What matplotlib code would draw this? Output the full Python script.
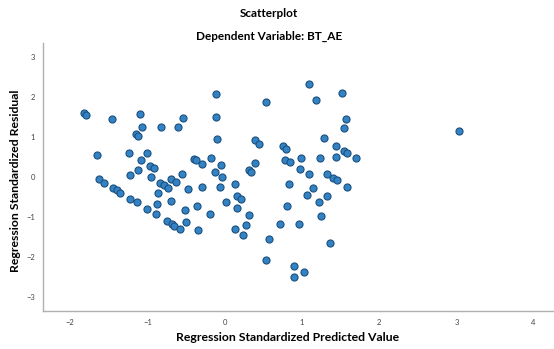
import matplotlib
matplotlib.use("Agg")
from matplotlib import pyplot as plt

# values
pred = [
    -1.82, -1.79, -1.46, -1.10, -1.07, -0.83, -1.15, -1.12, -1.65, -1.24,
    -1.00, -1.09, -0.97, -0.91, -1.12, -1.23, -0.96, -1.63, -1.56, -0.84,
    -0.79, -0.74, -1.45, -1.39, -1.35, -0.87, -1.22, -1.14, -0.88, -1.00,
    -0.89, -0.75, -0.68, -0.65, -0.58, -0.11, 0.53, -0.54, -0.61, -0.11,
    -0.10, 0.39, 0.45, -0.40, -0.37, -0.30, -0.18, -0.05, 0.39, 0.31,
    0.34, -0.13, -0.03, -0.55, -0.70, -0.63, -0.47, -0.29, -0.06, 0.13,
    -0.70, 0.16, 0.21, 0.02, 0.16, -0.51, -0.36, -0.19, 0.31, -0.50,
    -0.34, 0.13, 0.27, 0.24, 0.57, 0.53, 1.09, 1.52, 1.18, 1.57,
    1.54, 1.29, 0.76, 0.80, 1.44, 1.54, 1.58, 0.78, 0.84, 0.99,
    1.23, 1.44, 1.70, 0.97, 1.09, 1.32, 1.40, 1.45, 0.83, 1.14,
    1.59, 1.07, 1.33, 1.22, 0.81, 1.25, 0.72, 0.96, 1.36, 0.90,
    1.03, 0.90, 3.03,
]
resid = [
    1.59, 1.55, 1.44, 1.57, 1.25, 1.25, 1.06, 1.03, 0.54, 0.60,
    0.60, 0.42, 0.28, 0.21, 0.18, 0.04, 0.00, -0.06, -0.15, -0.16,
    -0.20, -0.29, -0.27, -0.34, -0.40, -0.40, -0.56, -0.63, -0.67, -0.81,
    -0.93, -1.11, -1.19, -1.22, -1.31, 2.07, 1.87, 1.46, 1.25, 1.50,
    0.94, 0.91, 0.83, 0.45, 0.42, 0.32, 0.47, 0.30, 0.35, 0.16,
    0.12, 0.11, 0.00, 0.07, -0.05, -0.13, -0.31, -0.25, -0.25, -0.18,
    -0.60, -0.49, -0.56, -0.63, -0.78, -0.83, -0.72, -0.92, -0.96, -1.12,
    -1.32, -1.31, -1.21, -1.45, -1.56, -2.08, 2.31, 2.09, 1.93, 1.45,
    1.21, 0.96, 0.76, 0.70, 0.78, 0.65, 0.60, 0.43, 0.36, 0.48,
    0.48, 0.50, 0.47, 0.20, 0.07, 0.07, -0.03, -0.08, -0.19, -0.28,
    -0.26, -0.46, -0.49, -0.64, -0.72, -0.97, -1.18, -1.18, -1.66, -2.24,
    -2.39, -2.52, 1.15,
]
x_ticks = [-2, -1, 0, 1, 2, 3, 4]
y_ticks = [-3, -2, -1, 0, 1, 2, 3]

plt.rcParams['font.family'] = ['Lato', 'DejaVu Sans']

fig = plt.figure(figsize=(5.54, 3.49), dpi=100)
ax = fig.add_axes([0.078, 0.11, 0.92, 0.767])

ax.scatter(pred, resid, s=26, facecolor='#3382c4', edgecolor='#1c4f7e',
           linewidths=0.8, zorder=3)

ax.set_xlim(-2.35, 4.25)
ax.set_ylim(-3.35, 3.35)
ax.set_xticks(x_ticks)
ax.set_yticks(y_ticks)
ax.tick_params(length=0, labelsize=5.5, labelcolor='#444444', pad=6)

for side in ['top', 'right']:
    ax.spines[side].set_visible(False)
for side in ['left', 'bottom']:
    ax.spines[side].set_color('#b0b0b0')
    ax.spines[side].set_linewidth(1.0)

ax.set_xlabel('Regression Standardized Predicted Value', fontsize=8.8,
              fontweight='bold')
ax.set_ylabel('Regression Standardized Residual', fontsize=8.8,
              fontweight='bold')
ax.xaxis.set_label_coords(0.479, -0.08)
ax.yaxis.set_label_coords(-0.043, 0.485)

fig.text(0.486, 0.962, 'Scatterplot', ha='center', va='center',
         fontsize=8.5, fontweight='bold')
fig.text(0.486, 0.897, 'Dependent Variable: BT_AE', ha='center',
         va='center', fontsize=8.5, fontweight='bold')

fig.savefig('out.png', dpi=100)
